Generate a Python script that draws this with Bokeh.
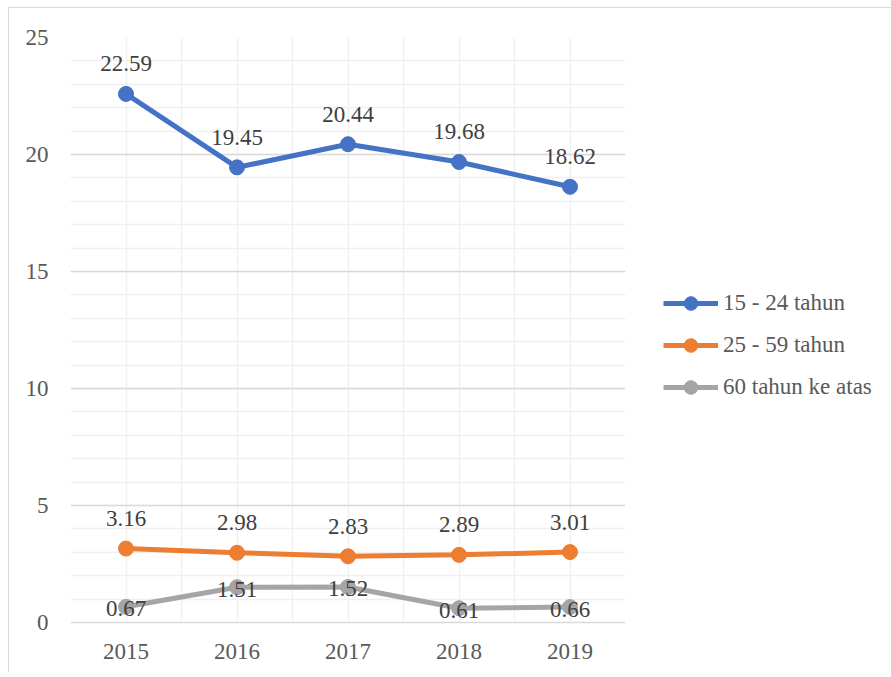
from bokeh.plotting import figure
from bokeh.models import (FixedTicker, Range1d, Legend, LegendItem, ColumnDataSource,
                          LabelSet)
from bokeh.embed import file_html
from bokeh.resources import INLINE

years = [2015, 2016, 2017, 2018, 2019]
year_labels = ["2015", "2016", "2017", "2018", "2019"]
s1_name = "15 - 24 tahun"
s2_name = "25 - 59 tahun"
s3_name = "60 tahun ke atas"
s1 = [22.59, 19.45, 20.44, 19.68, 18.62]
s2 = [3.16, 2.98, 2.83, 2.89, 3.01]
s3 = [0.67, 1.51, 1.52, 0.61, 0.66]
y_ticks = [0, 5, 10, 15, 20, 25]

colors = ["#4472C4", "#ED7D31", "#A5A5A5"]
FONT = "Liberation Serif"
FS = "23px"

p = figure(frame_width=555, frame_height=585, output_backend="svg", toolbar_location=None,
           x_range=Range1d(2014.5, 2019.5), y_range=Range1d(0, 25),
           min_border_left=61, min_border_top=29, min_border_right=0,
           min_border_bottom=50, background_fill_color="white",
           border_fill_color="white",
           styles={"border-top": "1px solid #d9d9d9", "border-left": "1px solid #d9d9d9",
                   "margin-left": "8px", "margin-top": "7px"})
p.outline_line_color = None

p.xaxis.ticker = FixedTicker(ticks=years, minor_ticks=[y + 0.5 for y in [2014] + years])
p.xaxis.major_label_overrides = {y: l for y, l in zip(years, year_labels)}
p.yaxis.ticker = FixedTicker(ticks=y_ticks, minor_ticks=list(range(0, 26)))
for ax in (p.xaxis, p.yaxis):
    ax.major_tick_line_color = None
    ax.minor_tick_line_color = None
    ax.major_label_text_font = FONT
    ax.major_label_text_font_size = FS
    ax.major_label_text_color = "#595959"
p.yaxis.axis_line_color = None
p.xaxis.axis_line_color = "#d9d9d9"
p.xaxis.axis_line_width = 1.5
p.yaxis.major_label_standoff = 16
p.xaxis.major_label_standoff = 15

p.xgrid.grid_line_color = "#f0f0f0"
p.xgrid.minor_grid_line_color = "#f0f0f0"
p.xgrid.grid_line_width = 1.5
p.xgrid.minor_grid_line_width = 1.5
p.ygrid.grid_line_color = "#d9d9d9"
p.ygrid.grid_line_width = 1.5
p.ygrid.minor_grid_line_color = "#f0f0f0"
p.ygrid.minor_grid_line_width = 1.5

items = []
for vals, name, col in zip([s1, s2, s3], [s1_name, s2_name, s3_name], colors):
    src = ColumnDataSource(dict(x=years, y=vals, t=[f"{v:.2f}" for v in vals]))
    l = p.line("x", "y", source=src, line_color=col, line_width=5)
    c = p.scatter("x", "y", source=src, size=15, fill_color=col, line_color=col)
    items.append(LegendItem(label=name, renderers=[l, c]))
    off = -2 if col == colors[2] else 30
    lab = LabelSet(x="x", y="y", text="t", source=src, text_align="center",
                   text_baseline="middle", y_offset=off, text_font=FONT,
                   text_font_size=FS, text_color="#404040")
    p.add_layout(lab)

legend = Legend(items=items, location=(38, 218), orientation="vertical",
                label_text_font=FONT, label_text_font_size=FS,
                label_text_color="#595959", glyph_width=55, glyph_height=34,
                label_standoff=5, spacing=8, padding=0, margin=0,
                border_line_color=None, background_fill_alpha=0)
p.add_layout(legend, "right")

open("out.html", "w").write(file_html(p, INLINE))
